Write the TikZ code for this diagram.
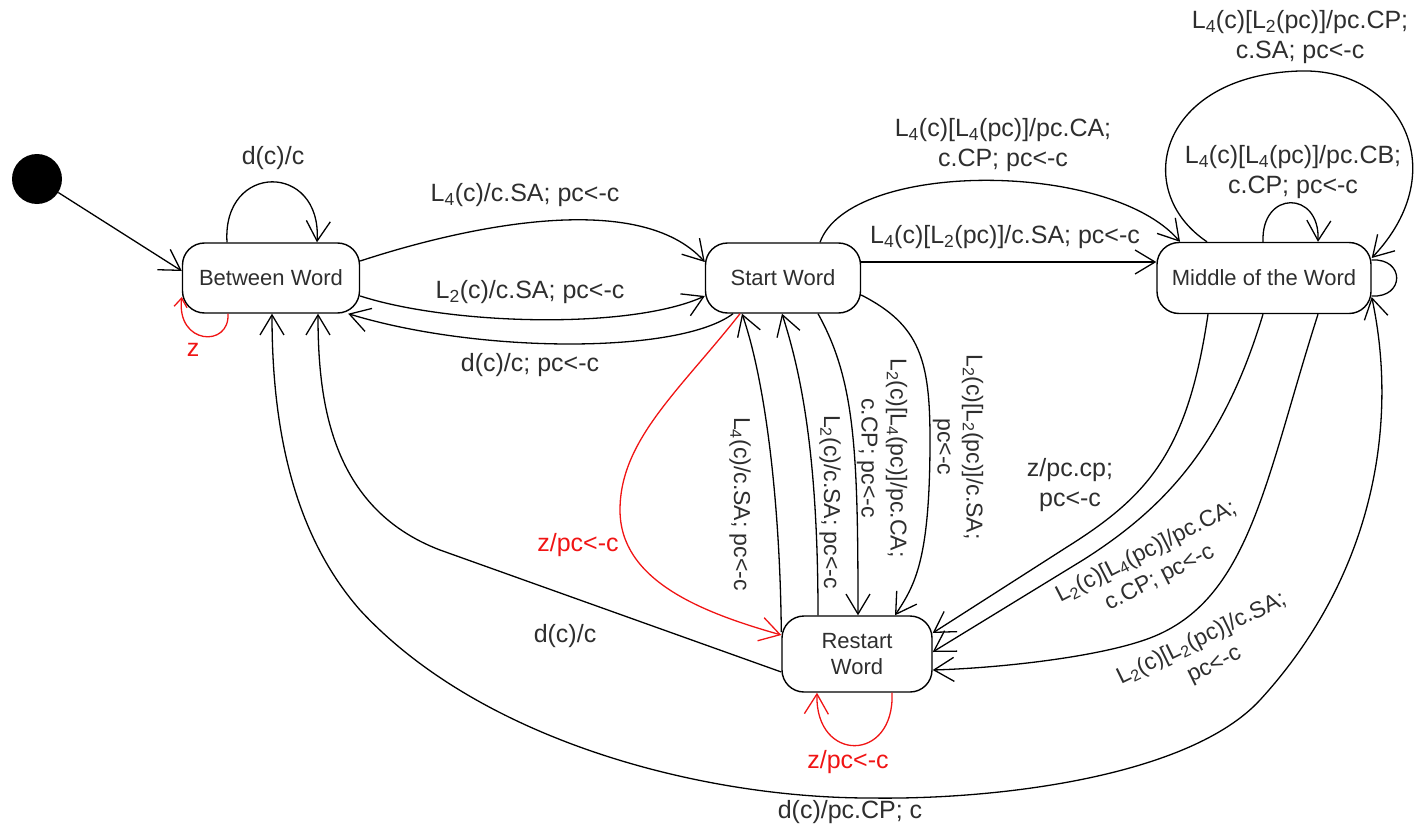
\documentclass[tikz,border=0pt]{standalone}
\usepackage{fontspec}
\setmainfont{Liberation Sans}
\usetikzlibrary{arrows.meta,calc}
\newcommand\Ls[1]{L\textsubscript{#1}}
\definecolor{txt}{gray}{0.18}
\definecolor{rd}{RGB}{240,20,20}
\begin{document}
\begin{tikzpicture}[x=1pt,y=-1pt,
  state/.style={draw, line width=1.4pt, rounded corners=22pt, font=\fontsize{22}{26}\selectfont, text=txt, inner sep=0pt, align=center},
  tr/.style={line width=1.3pt, -{Straight Barb[length=20pt,width=24pt,line width=1.3pt]}},
  trboth/.style={line width=1.3pt, {Straight Barb[length=20pt,width=24pt,line width=1.3pt]}-{Straight Barb[length=20pt,width=24pt,line width=1.3pt]}},
  plain/.style={line width=1.3pt},
  trred/.style={line width=1.3pt, draw=rd, -{Straight Barb[length=20pt,width=24pt,line width=1.3pt]}},
  trredsmall/.style={line width=1.3pt, draw=rd, -{Straight Barb[length=9pt,width=13pt,line width=1.3pt]}},
  lbl/.style={font=\fontsize{25}{30}\selectfont, text=txt, align=center, inner sep=0pt},
  rlbl/.style={font=\fontsize{23}{29}\selectfont, text=txt, align=center, inner sep=0pt},
  lblred/.style={lbl, text=rd}
]
\useasboundingbox (0,0) rectangle (1418,832);

% states
\node[circle, fill=black, minimum size=50pt, inner sep=0pt] (init) at (37,179) {};
\node[state, minimum width=177pt, minimum height=70pt] (bw) at (271,278) {Between Word};
\node[state, minimum width=155pt, minimum height=70pt] (sw) at (783,278) {Start Word};
\node[state, minimum width=214pt, minimum height=71pt] (mw) at (1264,278) {Middle of the Word};
\node[state, minimum width=150pt, minimum height=76pt] (rw) at (857,654) {Restart\\Word};

% transitions
\draw[tr] (init) -- ([yshift=7pt]bw.west);
\draw[tr] ([xshift=-44pt]bw.north) .. controls (222,162) and (322,162) .. ([xshift=46pt]bw.north);
\draw[trredsmall] ([xshift=-43pt]bw.south) .. controls (230,348) and (176,345) .. ([yshift=-19pt]bw.west);
\draw[tr] ([yshift=17pt]bw.east) .. controls (470,225) and (640,190) .. ([yshift=16pt]sw.west);
\draw[tr] ([yshift=-18pt]bw.east) .. controls (450,325) and (630,330) .. ([yshift=-18pt]sw.west);
\draw[tr] ([xshift=-50pt]sw.south) .. controls (680,354) and (480,354) .. ([xshift=-12pt]bw.south east);
\draw[tr] ([yshift=16pt]sw.east) -- ([yshift=16pt]mw.west);
\draw[tr] ([xshift=37pt]sw.north) .. controls (850,160) and (1110,160) .. ([xshift=-84pt]mw.north);
\draw[tr] ([xshift=-1pt]mw.north) .. controls (1261,190) and (1320,190) .. ([xshift=54pt]mw.north);
\draw[tr] ([xshift=-57pt]mw.north) .. controls (1130,190) and (1160,75) .. (1300,71) .. controls (1400,68) and (1455,170) .. ([yshift=20pt]mw.east);
\draw[plain] ([yshift=18pt]mw.east) .. controls (1405,258) and (1405,298) .. ([yshift=-18pt]mw.east);
\draw[tr] ([xshift=35pt]sw.south) .. controls (855,380) and (858,450) .. ([xshift=1pt]rw.north);
\draw[tr] ([yshift=-17pt]sw.east) .. controls (920,325) and (930,360) .. (930,440) .. controls (930,560) and (915,585) .. ([xshift=38pt]rw.north);
\draw[tr] ([yshift=22pt]rw.west) .. controls (780,500) and (765,380) .. ([xshift=-41pt]sw.south);
\draw[tr] ([xshift=-39pt]rw.north) .. controls (818,450) and (800,370) .. ([xshift=-1pt]sw.south);
\draw[trred] ([xshift=-43pt]sw.south) .. controls (680,390) and (620,440) .. (620,510) .. controls (620,580) and (700,612) .. ([yshift=19pt]rw.west);
\draw[trred] ([xshift=35pt]rw.south) .. controls (895,763) and (815,763) .. ([xshift=-40pt]rw.south);
\draw[tr] ([xshift=-56pt]mw.south) .. controls (1188,450) and (1150,495) .. (1067,547) -- ([yshift=21pt]rw.east);
\draw[tr] ([xshift=-1pt]mw.south) .. controls (1225,440) and (1170,505) .. (1083,560) -- ([yshift=2pt]rw.east);
\draw[tr] ([xshift=54pt]mw.south) .. controls (1265,480) and (1250,600) .. (1150,638) .. controls (1100,657) and (1000,668) .. ([yshift=-16pt]rw.east);
\draw[tr] ([yshift=-18pt]rw.west) -- (440,550) .. controls (330,508) and (318,400) .. ([xshift=47pt]bw.south);
\draw[trboth] ([yshift=-19pt]mw.east) .. controls (1400,430) and (1370,580) .. (1260,700) .. controls (1190,776) and (1000,800) .. (870,798) .. controls (700,798) and (480,740) .. (360,610) .. controls (290,530) and (272,420) .. ([xshift=1pt]bw.south);

% labels
\node[lbl] (l1) at (273,158) {d(c)/c};
\node[lblred] (l2) at (193,350) {z};
\node[lbl] (l3) at (525,195) {\Ls4(c)/c.SA; pc<-c};
\node[lbl] (l4) at (530,292) {\Ls2(c)/c.SA; pc<-c};
\node[lbl] (l5) at (530,365) {d(c)/c; pc<-c};
\node[lbl] (l6) at (1005,237) {\Ls4(c)[\Ls2(pc)]/c.SA; pc<-c};
\node[lbl] (l7) at (1003,145) {\Ls4(c)[\Ls4(pc)]/pc.CA;\\c.CP; pc<-c};
\node[lbl] (l8) at (1300,37) {\Ls4(c)[\Ls2(pc)]/pc.CP;\\c.SA; pc<-c};
\node[lbl] (l9) at (1293,172) {\Ls4(c)[\Ls4(pc)]/pc.CB;\\c.CP; pc<-c};
\node[lbl] (l10) at (1070,485) {z/pc.cp;\\pc<-c};
\node[lblred] (l11) at (578,545) {z/pc<-c};
\node[lbl] (l12) at (565,636) {d(c)/c};
\node[lblred] (l13) at (848,762) {z/pc<-c};
\node[lbl] (l14) at (850,812) {d(c)/pc.CP; c};
\node[rlbl, rotate=-90] (l15) at (740,504) {\Ls4(c)/c.SA; pc<-c};
\node[rlbl, rotate=-90] (l16) at (830,502) {\Ls2(c)/c.SA; pc<-c};
\node[rlbl, rotate=-90] (l17) at (882,458) {\Ls2(c)[\Ls4(pc)]/pc.CA;\\c.CP; pc<-c};
\node[rlbl, rotate=-90] (l18) at (958,447) {\Ls2(c)[\Ls2(pc)]/c.SA;\\pc<-c};
\node[rlbl, rotate=27] (l19) at (1153,565) {\Ls2(c)[\Ls4(pc)]/pc.CA;\\c.CP; pc<-c};
\node[rlbl, rotate=26] (l20) at (1208,652) {\Ls2(c)[\Ls2(pc)]/c.SA;\\pc<-c};
\end{tikzpicture}
\end{document}
